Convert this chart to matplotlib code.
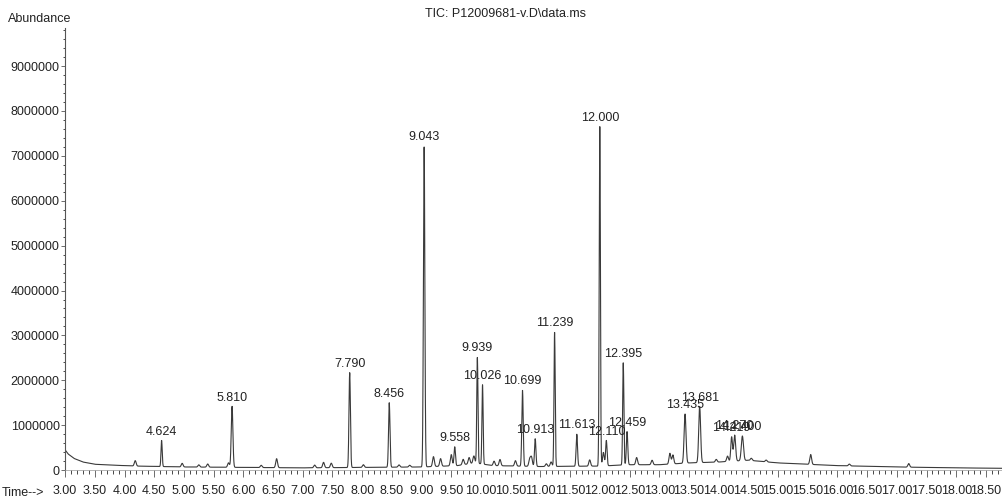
import matplotlib

matplotlib.use('Agg')
import matplotlib.pyplot as plt
from matplotlib.ticker import MultipleLocator, FuncFormatter
import numpy as np

plt.rcParams['font.family'] = ['Liberation Sans', 'DejaVu Sans']

# labelled peaks: retention time (min), height (abundance)
peak_times = [4.624, 5.810, 7.790, 8.456, 9.043, 9.558, 9.939, 10.026,
              10.699, 10.913, 11.239, 11.613, 12.000, 12.110, 12.395,
              12.459, 13.435, 13.681, 14.219, 14.270, 14.400]
peak_heights = [0.66e6, 1.42e6, 2.17e6, 1.50e6, 7.22e6, 0.52e6, 2.52e6,
                1.90e6, 1.78e6, 0.70e6, 3.08e6, 0.80e6, 7.65e6, 0.66e6,
                2.40e6, 0.86e6, 1.25e6, 1.42e6, 0.74e6, 0.78e6, 0.76e6]
peak_labels = ['4.624', '5.810', '7.790', '8.456', '9.043', '9.558',
               '9.939', '10.026', '10.699', '10.913', '11.239', '11.613',
               '12.000', '12.110', '12.395', '12.459', '13.435', '13.681',
               '14.219', '14.270', '14.400']
peak_widths = [0.010, 0.014, 0.012, 0.012, 0.012, 0.012, 0.010, 0.010,
               0.012, 0.012, 0.010, 0.012, 0.010, 0.012, 0.010, 0.012,
               0.016, 0.016, 0.014, 0.016, 0.018]

# unlabelled minor peaks
minor_times = [4.18, 4.97, 5.25, 5.40, 5.75, 6.30, 6.56, 7.20, 7.35, 7.48,
               8.02, 8.62, 8.80, 9.20, 9.32, 9.50, 9.70, 9.80, 9.88, 10.22,
               10.32, 10.58, 10.82, 10.85, 11.10, 11.18, 11.83, 12.06, 12.62,
               12.88, 13.18, 13.23, 13.96, 14.15, 14.55, 14.80, 15.55, 16.20,
               17.20]
minor_heights = [0.12e6, 0.08e6, 0.05e6, 0.07e6, 0.10e6, 0.05e6, 0.20e6,
                 0.06e6, 0.12e6, 0.10e6, 0.06e6, 0.05e6, 0.04e6, 0.22e6,
                 0.17e6, 0.25e6, 0.12e6, 0.14e6, 0.16e6, 0.10e6, 0.14e6,
                 0.12e6, 0.16e6, 0.20e6, 0.06e6, 0.10e6, 0.14e6, 0.30e6,
                 0.16e6, 0.10e6, 0.24e6, 0.20e6, 0.06e6, 0.12e6, 0.05e6,
                 0.04e6, 0.22e6, 0.04e6, 0.08e6]

# baseline drift
base_times = [3.00, 3.05, 3.15, 3.30, 3.50, 3.80, 4.20, 5.00, 6.00, 7.00,
              8.00, 9.00, 9.60, 9.90, 10.20, 11.00, 12.00, 12.50, 13.00,
              13.50, 14.00, 14.50, 15.00, 16.00, 17.00, 18.00, 18.80]
base_values = [0.45e6, 0.36e6, 0.26e6, 0.18e6, 0.13e6, 0.11e6, 0.09e6,
               0.07e6, 0.06e6, 0.05e6, 0.06e6, 0.07e6, 0.10e6, 0.16e6,
               0.10e6, 0.08e6, 0.09e6, 0.12e6, 0.12e6, 0.16e6, 0.18e6,
               0.22e6, 0.16e6, 0.10e6, 0.07e6, 0.05e6, 0.04e6]

t = np.arange(3.0, 18.8, 0.002)
signal = np.interp(t, base_times, base_values)
for pt, ph, pw in zip(peak_times, peak_heights, peak_widths):
  base_at = np.interp(pt, base_times, base_values)
  signal += (ph - base_at) * np.exp(-0.5 * ((t - pt) / pw) ** 2)
for mt, mh in zip(minor_times, minor_heights):
  signal += mh * np.exp(-0.5 * ((t - mt) / 0.015) ** 2)

fig = plt.figure(figsize=(10.02, 4.98), dpi=100)
ax = fig.add_axes([0.065, 0.056, 0.935, 0.888])
ax.plot(t, signal, color='#3a3a3a', linewidth=0.8)

for pt, ph, lab in zip(peak_times, peak_heights, peak_labels):
  ax.annotate(lab, (pt, ph), xytext=(0, 2), textcoords='offset points',
              ha='center', va='bottom', fontsize=9, color='#222222')

ax.set_xlim(3.0, 18.77)
ax.set_ylim(0, 9.85e6)
ax.xaxis.set_major_locator(MultipleLocator(0.5))
ax.xaxis.set_minor_locator(MultipleLocator(0.1))
ax.yaxis.set_major_locator(MultipleLocator(1e6))
ax.yaxis.set_minor_locator(MultipleLocator(2e5))
ax.xaxis.set_major_formatter(FuncFormatter(lambda v, p: f'{v:.2f}'))
ax.yaxis.set_major_formatter(FuncFormatter(lambda v, p: f'{int(v)}'))
ax.tick_params(axis='both', labelsize=9, colors='#555555',
               labelcolor='#222222', width=0.6)
ax.tick_params(axis='x', which='major', length=5, pad=6)
ax.tick_params(axis='x', which='minor', length=3, width=0.5)
ax.tick_params(axis='y', which='major', length=3, pad=1)
ax.tick_params(axis='y', which='minor', length=1.5, width=0.5)

for side in ['top', 'right']:
  ax.spines[side].set_visible(False)
ax.spines['left'].set_color('#555555')
ax.spines['left'].set_linewidth(0.8)
ax.spines['bottom'].set_color('#999999')
ax.spines['bottom'].set_linewidth(0.5)

fig.text(0.008, 0.962, 'Abundance', fontsize=9, color='#222222',
         ha='left', va='center')
fig.text(0.504, 0.972, 'TIC: P12009681-v.D\\data.ms', fontsize=9,
         color='#222222', ha='center', va='center')
fig.text(0.002, 0.010, 'Time-->', fontsize=9, color='#222222',
         ha='left', va='center')

fig.savefig('out.png', dpi=100)
plt.close(fig)
